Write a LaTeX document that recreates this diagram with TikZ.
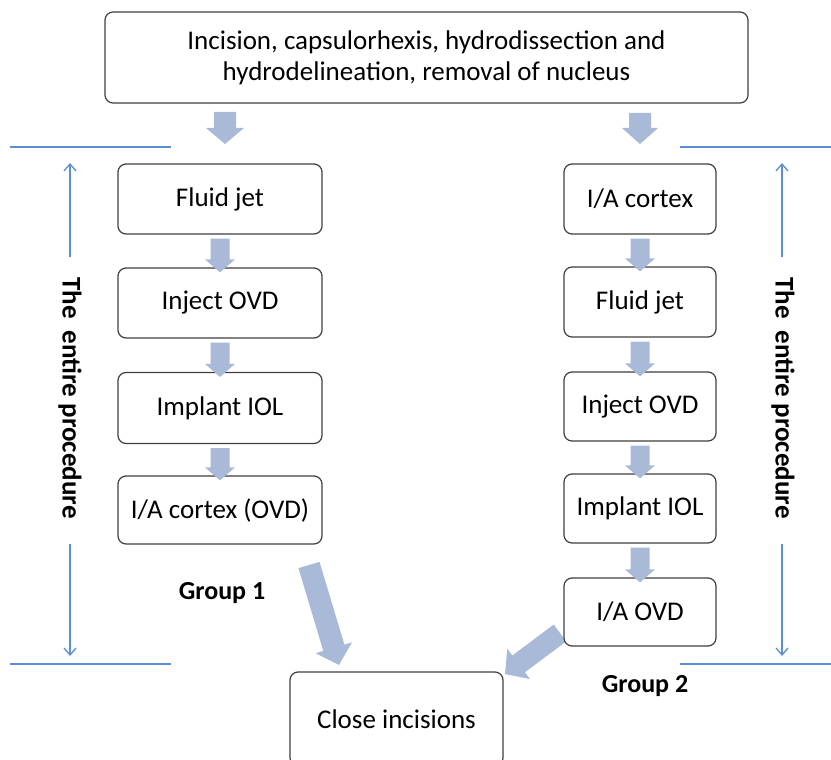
\documentclass[tikz,border=0pt]{standalone}
\usepackage{fontspec}
\setmainfont{Carlito}
\usetikzlibrary{calc,arrows.meta}
\definecolor{arrowc}{RGB}{168,186,216}
\definecolor{linec}{RGB}{91,142,212}
\definecolor{boxc}{RGB}{64,64,64}
\tikzset{
 stepbox/.style={draw=boxc, line width=1.2pt, rounded corners=8pt, fill=white, inner sep=0pt, align=center, font=\fontsize{27}{31}\selectfont},
 bracketline/.style={draw=linec, line width=1.3pt},
 spanarrow/.style={draw=linec, line width=1.3pt, -{Straight Barb[length=7pt,width=12pt]}},
 sidelabel/.style={font=\bfseries\fontsize{27}{31}\selectfont, rotate=-90},
 grouplabel/.style={font=\bfseries\fontsize{26}{30}\selectfont}
}
\newcommand\blkarrow[5]{%
 \coordinate (ba) at #1; \coordinate (bb) at #2;
 \coordinate (bh) at ($(bb)!#5!(ba)$);
 \fill[arrowc] ($(ba)!#3!90:(bb)$) -- ($(bh)!#3!90:(bb)$) -- ($(bh)!#4!90:(bb)$) -- (bb) -- ($(bh)!#4!-90:(bb)$) -- ($(bh)!#3!-90:(bb)$) -- ($(ba)!#3!-90:(bb)$) -- cycle;
}
\begin{document}
\begin{tikzpicture}[x=1pt,y=1pt]
\useasboundingbox (0,0) rectangle (831,-760);
\clip (0,0) rectangle (831,-760);
\fill[white] (0,0) rectangle (831,-760);

% big arrows (drawn first, boxes on top)
\coordinate (g1s) at (309,-565);
\coordinate (g1e) at (339,-665);
\coordinate (g2s) at (560,-633);
\coordinate (g2e) at (505,-674);
\blkarrow{(g1s)}{(g1e)}{11pt}{19pt}{18pt}
\blkarrow{(g2s)}{(g2e)}{10.5pt}{19pt}{17pt}

% top box
\node[stepbox, minimum width=643pt, minimum height=91pt] (top) at (426.5,-57.5)
 {Incision, capsulorhexis, hydrodissection and\\hydrodelineation, removal of nucleus};

% left column
\node[stepbox, minimum width=204pt, minimum height=70pt] (L1) at (220,-199) {Fluid jet};
\node[stepbox, minimum width=204pt, minimum height=70pt] (L2) at (220,-303) {Inject OVD};
\node[stepbox, minimum width=204pt, minimum height=71pt] (L3) at (220,-408) {Implant IOL};
\node[stepbox, minimum width=204pt, minimum height=68pt] (L4) at (220,-510) {I/A cortex (OVD)};

% right column
\node[stepbox, minimum width=152pt, minimum height=70pt] (R1) at (640,-199) {I/A cortex};
\node[stepbox, minimum width=152pt, minimum height=70pt] (R2) at (640,-302) {Fluid jet};
\node[stepbox, minimum width=152pt, minimum height=69pt] (R3) at (640,-406.5) {Inject OVD};
\node[stepbox, minimum width=152pt, minimum height=69pt] (R4) at (640,-508.5) {Implant IOL};
\node[stepbox, minimum width=152pt, minimum height=68pt] (R5) at (640,-612) {I/A OVD};

% close box (runs past the bottom edge)
\node[stepbox, minimum width=213pt, minimum height=94pt] (close) at (396.5,-719) {Close incisions};

% top arrows
\blkarrow{(225,-112)}{(225,-144)}{11pt}{19pt}{16pt}
\blkarrow{(640,-113)}{(640,-144)}{11pt}{18pt}{16pt}

% small arrows
\blkarrow{($(L1.south)+(0,-4)$)}{($(L2.north)+(0,-5)$)}{9.5pt}{15pt}{13pt}
\blkarrow{($(L2.south)+(0,-4)$)}{($(L3.north)+(0,-5)$)}{9.5pt}{15pt}{13pt}
\blkarrow{($(L3.south)+(0,-4)$)}{($(L4.north)+(0,-5)$)}{9.5pt}{15pt}{13pt}
\blkarrow{($(R1.south)+(0,-4)$)}{($(R2.north)+(0,-5)$)}{9.5pt}{15pt}{13pt}
\blkarrow{($(R2.south)+(0,-4)$)}{($(R3.north)+(0,-5)$)}{9.5pt}{15pt}{13pt}
\blkarrow{($(R3.south)+(0,-4)$)}{($(R4.north)+(0,-5)$)}{9.5pt}{15pt}{13pt}
\blkarrow{($(R4.south)+(0,-4)$)}{($(R5.north)+(0,-5)$)}{9.5pt}{15pt}{13pt}

% bracket lines
\coordinate (tl1) at (10,-147); \coordinate (tl2) at (171,-147);
\coordinate (tr1) at (680,-147); \coordinate (tr2) at (831,-147);
\coordinate (bl1) at (10,-664); \coordinate (bl2) at (171,-664);
\coordinate (br1) at (680,-664); \coordinate (br2) at (831,-664);
\draw[bracketline] (tl1) -- (tl2);
\draw[bracketline] (tr1) -- (tr2);
\draw[bracketline] (bl1) -- (bl2);
\draw[bracketline] (br1) -- (br2);

% span arrows and labels
\node[sidelabel] (lspan) at (70,-398) {The\ \ entire procedure};
\node[sidelabel] (rspan) at (783,-398) {The\ \ entire procedure};
\coordinate (lup) at (70,-163); \coordinate (ldn) at (70,-656);
\coordinate (rup) at (782,-163); \coordinate (rdn) at (782,-656);
\coordinate (lupst) at (70,-257); \coordinate (ldnst) at (70,-544);
\coordinate (rupst) at (782,-257); \coordinate (rdnst) at (782,-544);
\draw[spanarrow] (lupst) -- (lup);
\draw[spanarrow] (ldnst) -- (ldn);
\draw[spanarrow] (rupst) -- (rup);
\draw[spanarrow] (rdnst) -- (rdn);

% group labels
\node[grouplabel] (g1) at (222,-593) {Group 1};
\node[grouplabel] (g2) at (645,-686) {Group 2};
\end{tikzpicture}
\end{document}
